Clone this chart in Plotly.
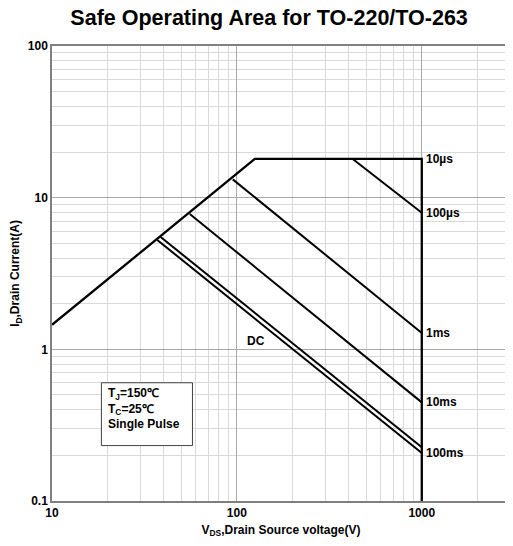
import math
import plotly.graph_objects as go

# ---- data ----
limit_v = [10, 125, 1000, 1000]
limit_i = [1.45, 18, 18, 0.1]

pulse_names = ["100µs", "1ms", "10ms", "100ms", "DC"]
pulse_v_start = [423, 95, 55.6, 38.7, 37.1]
pulse_i_start = [18, 13.2, 7.8, 5.5, 5.26]
pulse_v_end = [1000, 1000, 1000, 1000, 1000]
pulse_i_end = [7.96, 1.28, 0.447, 0.226, 0.207]

label_texts = ["10µs", "100µs", "1ms", "10ms", "100ms"]
label_i = [18, 7.96, 1.28, 0.447, 0.207]
dc_label_v = 110
dc_label_i = 1.13

note_box_v = [18.5, 57.5]
note_box_i = [0.232, 0.602]
note_text_v = 19.6
note_text_i = 0.405

x_major = [10, 100, 1000]
y_major = [0.1, 1, 10, 100]
x_minor = [m * d for d in (10, 100) for m in range(2, 10)] + [2000, 3000]
y_minor = [m * d for d in (0.1, 1, 10) for m in range(2, 10)]

FONT = "Arial, Liberation Sans, sans-serif"
L = math.log10

fig = go.Figure()
fig.add_trace(go.Scatter(x=limit_v, y=limit_i, mode="lines",
                         line=dict(color="black", width=2.3), showlegend=False,
                         hoverinfo="skip"))
for n, v0, i0, v1, i1 in zip(pulse_names, pulse_v_start, pulse_i_start,
                             pulse_v_end, pulse_i_end):
    fig.add_trace(go.Scatter(x=[v0, v1], y=[i0, i1], mode="lines", name=n,
                             line=dict(color="black", width=2), showlegend=False))

for t, yi in zip(label_texts, label_i):
    fig.add_annotation(x=L(1000), y=L(yi), text=f"<b>{t}</b>",
                       showarrow=False, xanchor="left", yanchor="middle",
                       xshift=2, font=dict(family=FONT, size=12, color="black"))
fig.add_annotation(x=L(dc_label_v), y=L(dc_label_i), text="<b>DC</b>",
                   showarrow=False, xanchor="left", yanchor="middle",
                   font=dict(family=FONT, size=12, color="black"))

fig.add_shape(type="rect", xref="x", yref="y",
              x0=note_box_v[0], x1=note_box_v[1],
              y0=note_box_i[0], y1=note_box_i[1],
              line=dict(color="#404040", width=1), fillcolor="white", layer="above")
fig.add_annotation(x=L(note_text_v), y=L(note_text_i), xanchor="left", yanchor="middle",
                   text="<b>T<sub>J</sub>=150℃<br>T<sub>C</sub>=25℃<br>Single Pulse</b>",
                   showarrow=False, align="left",
                   font=dict(family=FONT, size=12, color="black"))

axis_common = dict(type="log", showline=True, linecolor="#808080", linewidth=1.5,
                   mirror=True, showgrid=True, gridcolor="#a8a8a8", gridwidth=1,
                   zeroline=False, ticks="", automargin=False,
                   tickfont=dict(family=FONT, size=12, color="black"))

fig.update_xaxes(**axis_common, range=[1, L(3000)], tickmode="array",
                 tickvals=x_major, ticktext=[f"<b>{v}</b>" for v in x_major],
                 minor=dict(tickmode="array", tickvals=x_minor, showgrid=True,
                            gridcolor="#d9d9d9", gridwidth=1, ticks=""),
                 title=dict(text="<b>V<sub>DS</sub>,Drain Source voltage(V)</b>",
                            font=dict(family=FONT, size=12, color="black"), standoff=6))
fig.update_yaxes(**axis_common, range=[-1, 2], tickmode="array",
                 tickvals=y_major, ticktext=[f"<b>{v:g}</b>" for v in y_major],
                 minor=dict(tickmode="array", tickvals=y_minor, showgrid=True,
                            gridcolor="#d9d9d9", gridwidth=1, ticks=""),
                 title=dict(text="<b>I<sub>D</sub>,Drain Current(A)</b>",
                            font=dict(family=FONT, size=12, color="black"), standoff=14))

fig.update_layout(
    width=505, height=538,
    margin=dict(l=44, r=3, t=38, b=45, autoexpand=False),
    paper_bgcolor="white", plot_bgcolor="white",
    title=dict(text="<b>Safe Operating Area for TO-220/TO-263</b>", x=0.517, xanchor="center",
               y=0.996, yanchor="top", pad=dict(t=0, b=0),
               font=dict(family=FONT, size=21.5, color="black")),
)

fig.write_html("out.html")
